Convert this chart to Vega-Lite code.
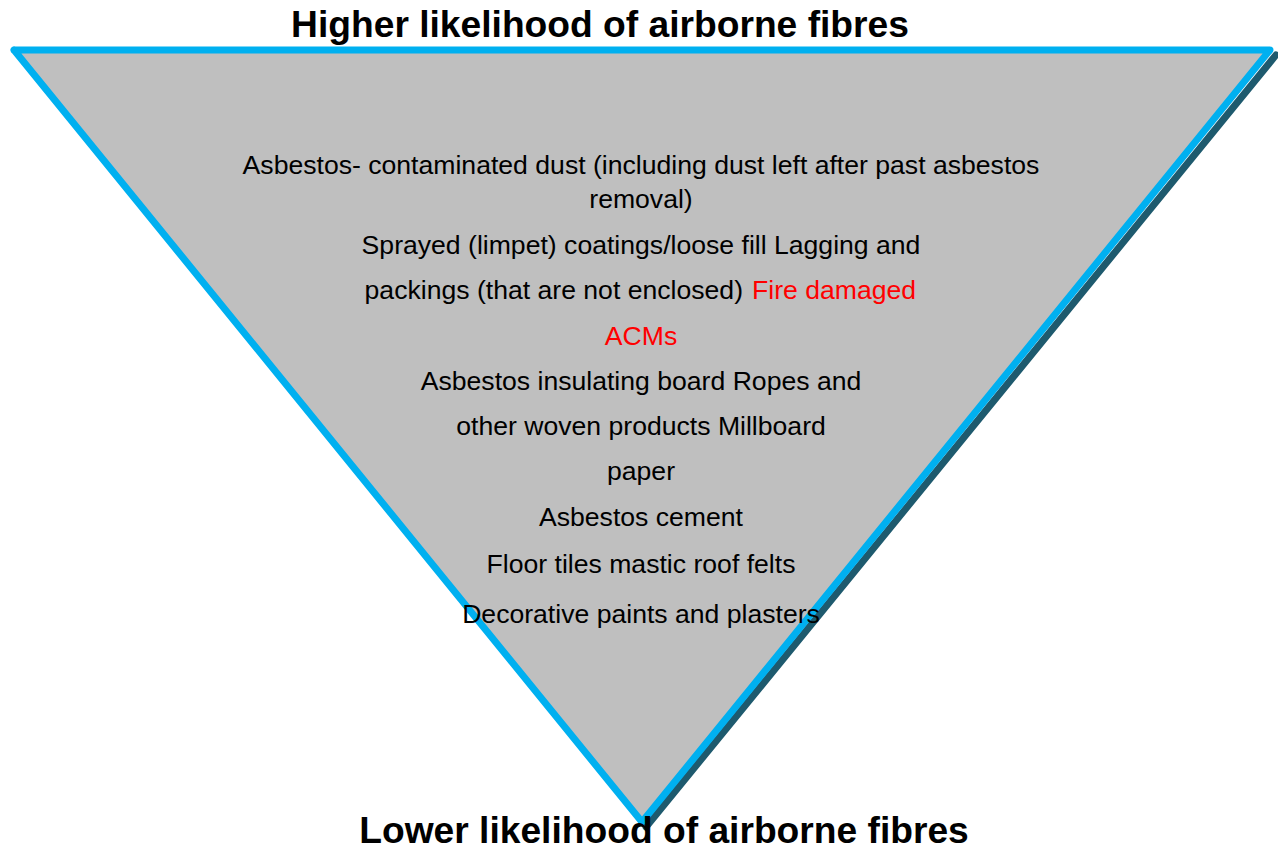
{
  "$schema": "https://vega.github.io/schema/vega-lite/v6.json",
  "autosize": "none",
  "width": 1278,
  "height": 850,
  "padding": 0,
  "background": "white",
  "config": {"view": {"stroke": null}},
  "datasets": {
    "shadow": [{"x": 1276, "y": 55, "i": 0}, {"x": 646, "y": 827, "i": 1}],
    "fill": [{"x": 14, "top": 50, "bottom": 50}, {"x": 642, "top": 50, "bottom": 822}, {"x": 1270, "top": 50, "bottom": 50}],
    "outline": [{"x": 14, "y": 50, "i": 0}, {"x": 1270, "y": 50, "i": 1}, {"x": 642, "y": 822, "i": 2}, {"x": 14, "y": 50, "i": 3}],
    "items": [
      {"x": 641, "y": 166, "text": "Asbestos- contaminated dust (including dust left after past asbestos", "kind": "normal", "align": "center"},
      {"x": 641, "y": 200, "text": "removal)", "kind": "normal", "align": "center"},
      {"x": 641, "y": 246, "text": "Sprayed (limpet) coatings/loose fill Lagging and", "kind": "normal", "align": "center"},
      {"x": 743, "y": 291, "text": "packings (that are not enclosed)", "kind": "normal", "align": "right"},
      {"x": 752, "y": 291, "text": "Fire damaged", "kind": "highlight", "align": "left"},
      {"x": 641, "y": 337, "text": "ACMs", "kind": "highlight", "align": "center"},
      {"x": 641, "y": 382, "text": "Asbestos insulating board Ropes and", "kind": "normal", "align": "center"},
      {"x": 641, "y": 427, "text": "other woven products Millboard", "kind": "normal", "align": "center"},
      {"x": 641, "y": 472, "text": "paper", "kind": "normal", "align": "center"},
      {"x": 641, "y": 518, "text": "Asbestos cement", "kind": "normal", "align": "center"},
      {"x": 641, "y": 565, "text": "Floor tiles mastic roof felts", "kind": "normal", "align": "center"},
      {"x": 641, "y": 615, "text": "Decorative paints and plasters", "kind": "normal", "align": "center"}
    ],
    "titles": [
      {"x": 600, "y": 26, "text": "Higher likelihood of airborne fibres"},
      {"x": 664, "y": 832, "text": "Lower likelihood of airborne fibres"}
    ]
  },
  "layer": [
    {
      "data": {"name": "shadow"},
      "mark": {"type": "line", "stroke": "#1E5A6E", "strokeWidth": 7, "strokeCap": "round"},
      "encoding": {
        "x": {"field": "x", "type": "quantitative", "scale": {"domain": [0, 1278], "nice": false, "zero": false}, "axis": null},
        "y": {"field": "y", "type": "quantitative", "scale": {"domain": [0, 850], "nice": false, "zero": false, "reverse": true}, "axis": null},
        "order": {"field": "i"}
      }
    },
    {
      "data": {"name": "fill"},
      "mark": {"type": "area", "color": "#BFBFBF", "opacity": 1},
      "encoding": {
        "x": {"field": "x", "type": "quantitative", "scale": {"domain": [0, 1278], "nice": false, "zero": false}, "axis": null},
        "y": {"field": "top", "type": "quantitative", "scale": {"domain": [0, 850], "nice": false, "zero": false, "reverse": true}, "axis": null},
        "y2": {"field": "bottom"}
      }
    },
    {
      "data": {"name": "outline"},
      "mark": {"type": "line", "stroke": "#00B0F0", "strokeWidth": 7, "strokeJoin": "round", "strokeCap": "round"},
      "encoding": {
        "x": {"field": "x", "type": "quantitative", "scale": {"domain": [0, 1278], "nice": false, "zero": false}, "axis": null},
        "y": {"field": "y", "type": "quantitative", "scale": {"domain": [0, 850], "nice": false, "zero": false, "reverse": true}, "axis": null},
        "order": {"field": "i"}
      }
    },
    {
      "data": {"name": "items"},
      "transform": [{"filter": "datum.align === 'center'"}],
      "mark": {"type": "text", "font": "Liberation Sans", "fontSize": 26.6, "baseline": "middle", "align": "center"},
      "encoding": {
        "x": {"field": "x", "type": "quantitative", "scale": {"domain": [0, 1278], "nice": false, "zero": false}, "axis": null},
        "y": {"field": "y", "type": "quantitative", "scale": {"domain": [0, 850], "nice": false, "zero": false, "reverse": true}, "axis": null},
        "text": {"field": "text"},
        "color": {"field": "kind", "type": "nominal", "scale": {"domain": ["normal", "highlight"], "range": ["#000000", "#FF0000"]}, "legend": null}
      }
    },
    {
      "data": {"name": "items"},
      "transform": [{"filter": "datum.align === 'right'"}],
      "mark": {"type": "text", "font": "Liberation Sans", "fontSize": 26.6, "baseline": "middle", "align": "right"},
      "encoding": {
        "x": {"field": "x", "type": "quantitative", "scale": {"domain": [0, 1278], "nice": false, "zero": false}, "axis": null},
        "y": {"field": "y", "type": "quantitative", "scale": {"domain": [0, 850], "nice": false, "zero": false, "reverse": true}, "axis": null},
        "text": {"field": "text"},
        "color": {"field": "kind", "type": "nominal", "scale": {"domain": ["normal", "highlight"], "range": ["#000000", "#FF0000"]}, "legend": null}
      }
    },
    {
      "data": {"name": "items"},
      "transform": [{"filter": "datum.align === 'left'"}],
      "mark": {"type": "text", "font": "Liberation Sans", "fontSize": 26.6, "baseline": "middle", "align": "left"},
      "encoding": {
        "x": {"field": "x", "type": "quantitative", "scale": {"domain": [0, 1278], "nice": false, "zero": false}, "axis": null},
        "y": {"field": "y", "type": "quantitative", "scale": {"domain": [0, 850], "nice": false, "zero": false, "reverse": true}, "axis": null},
        "text": {"field": "text"},
        "color": {"field": "kind", "type": "nominal", "scale": {"domain": ["normal", "highlight"], "range": ["#000000", "#FF0000"]}, "legend": null}
      }
    },
    {
      "data": {"name": "titles"},
      "mark": {"type": "text", "font": "Liberation Sans", "fontSize": 37.2, "fontWeight": "bold", "baseline": "middle", "align": "center", "color": "#000000"},
      "encoding": {
        "x": {"field": "x", "type": "quantitative", "scale": {"domain": [0, 1278], "nice": false, "zero": false}, "axis": null},
        "y": {"field": "y", "type": "quantitative", "scale": {"domain": [0, 850], "nice": false, "zero": false, "reverse": true}, "axis": null},
        "text": {"field": "text"}
      }
    }
  ]
}
